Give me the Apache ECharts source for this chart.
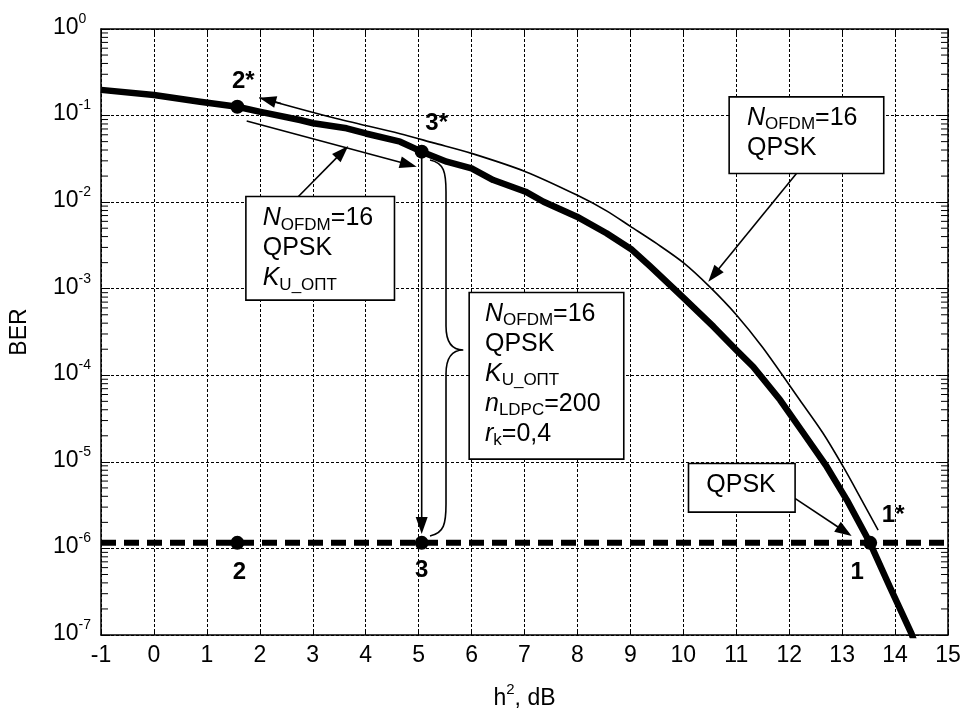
<!DOCTYPE html>
<html>
<head>
<meta charset="utf-8">
<script src="https://cdn.jsdelivr.net/npm/echarts@6/dist/echarts.min.js"></script>
<style>
html, body { margin: 0; padding: 0; background: #fff; }
#main { width: 964px; height: 710px; }
</style>
</head>
<body>
<div id="main"></div>
<script>
// thick curve (simulation, N_OFDM=16, QPSK, K_U_opt, LDPC)
const simX = [-1, 0, 0.87, 1.575, 1.99, 2.76, 3.01, 3.64, 4.02, 4.65, 5.058, 5.53, 6.0, 6.41, 7.02, 7.36, 7.99, 8.55, 9.01, 9.37, 9.98, 10.57, 11.0, 11.32, 11.83, 12.27, 12.71, 13.09, 13.53, 13.9, 14.31, 14.36];
const simBer = [0.198, 0.173, 0.1445, 0.1265, 0.111, 0.0889, 0.0815, 0.0713, 0.0617, 0.0499, 0.0383, 0.0293, 0.0246, 0.018, 0.0132, 0.0101, 0.00679, 0.00437, 0.00288, 0.00182, 8.09e-4, 3.64e-4, 1.96e-4, 1.256e-4, 5.18e-5, 2.14e-5, 8.79e-6, 3.62e-6, 1.146e-6, 3.61e-7, 1.04e-7, 8.5e-8];

// thin curve (N_OFDM=16, QPSK)
const theoryX = [1.99, 3.39, 4.65, 5.28, 6.0, 7.02, 8.0, 8.55, 9.0, 9.5, 10.0, 10.5, 11.0, 11.5, 12.2, 12.64, 13.02, 13.37, 13.68];
const theoryBer = [0.161, 0.0944, 0.0617, 0.0484, 0.0366, 0.0225, 0.012, 0.00794, 0.00525, 0.00331, 0.002, 0.00105, 5.01e-4, 2.09e-4, 5.18e-5, 2.14e-5, 8.79e-6, 3.62e-6, 1.63e-6];

// required BER level (dashed)
const levelX = [-1, 15];
const levelBer = [1.16e-6, 1.16e-6];

// marked points
const pointX = [1.575, 5.058, 1.575, 5.058, 13.53];
const pointBer = [0.1265, 0.0383, 1.16e-6, 1.16e-6, 1.16e-6];

// point names
const nameText = ['2*', '3*', '1*', '2', '3', '1'];
const nameX = [1.575, 5.058, 13.53, 1.575, 5.058, 13.53];
const nameBer = [0.1265, 0.0383, 1.16e-6, 1.16e-6, 1.16e-6, 1.16e-6];
const nameShift = [[6, -25], [15, -28], [23, -27], [2, 30], [0, 28], [-13, 30]];

// arrows: from -> to (head at "to")
const arrowFrom = [[2.40, 0.138], [1.752, 0.0865], [2.715, 0.0114], [5.058, 0.0383], [12.141, 0.0215], [12.109, 3.79e-6]];
const arrowTo = [[1.99, 0.161], [4.963, 0.0257], [3.671, 0.0445], [5.058, 1.47e-6], [10.472, 0.001205], [13.18, 1.39e-6]];

// curly brace: top end, tip, bottom end
const braceTop = [5.215, 0.0307];
const braceTip = [5.844, 1.96e-4];
const braceBottom = [5.215, 1.39e-6];

// annotation boxes (top-left corner)
const boxX = [1.752, 5.970, 10.881, 10.113];
const boxBer = [0.01137, 8.85e-4, 0.1609, 9.37e-6];
const boxText = [
  '{i|N}{s|OFDM}{n|=16}\n{n|QPSK}\n{i|K}{s|U_ОПТ}',
  '{i|N}{s|OFDM}{n|=16}\n{n|QPSK}\n{i|K}{s|U_ОПТ}\n{i|n}{s|LDPC}{n|=200}\n{i|r}{s|k}{n|=0,4}',
  '{i|N}{s|OFDM}{n|=16}\n{n|QPSK}',
  '{n|QPSK}'
];
const boxStyle = [
  { width: 123, height: 90, padding: [6, 8, 6, 16] },
  { width: 130, height: 150, padding: [6, 8, 9, 15] },
  { width: 128, height: 60, padding: [5, 8, 10, 17] },
  { width: 80, height: 30, padding: [6, 8, 11, 17] }
];

// log minor ticks
const minorMant = [2, 3, 4, 5, 6, 7, 8, 9];
const decades = [-7, -6, -5, -4, -3, -2, -1];

const FONT = '"Liberation Sans", Arial, sans-serif';

const zip = (xs, ys) => xs.map((x, i) => [x, ys[i]]);

const minorTicks = [];
decades.forEach(d => minorMant.forEach(m => minorTicks.push([-1, m * Math.pow(10, d)])));

const boxRich = {
  n: { fontSize: 25, lineHeight: 30, fontFamily: FONT, color: '#000' },
  i: { fontSize: 25, lineHeight: 30, fontFamily: FONT, fontStyle: 'italic', color: '#000' },
  s: { fontSize: 17, lineHeight: 20, fontFamily: FONT, verticalAlign: 'bottom', color: '#000' }
};

var chart = echarts.init(document.getElementById('main'), null, { renderer: 'canvas' });

function renderArrow(params, api) {
  var p1 = api.coord([api.value(0), api.value(1)]);
  var p2 = api.coord([api.value(2), api.value(3)]);
  var dx = p2[0] - p1[0], dy = p2[1] - p1[1];
  var len = Math.sqrt(dx * dx + dy * dy);
  var ux = dx / len, uy = dy / len;
  var hl = 17, hw = 6;
  var bx = p2[0] - ux * hl, by = p2[1] - uy * hl;
  return {
    type: 'group',
    children: [
      { type: 'line', shape: { x1: p1[0], y1: p1[1], x2: bx + ux * 2, y2: by + uy * 2 }, style: { stroke: '#000', lineWidth: 1.6 } },
      { type: 'polygon', shape: { points: [[p2[0], p2[1]], [bx - uy * hw, by + ux * hw], [bx + uy * hw, by - ux * hw]] }, style: { fill: '#000' } }
    ]
  };
}

function renderBrace(params, api) {
  var t = api.coord([api.value(0), api.value(1)]);
  var c = api.coord([api.value(2), api.value(3)]);
  var b = api.coord([api.value(4), api.value(5)]);
  var sx = t[0] + 16;
  var d = 'M' + t[0] + ',' + t[1] +
    ' C' + (sx - 2) + ',' + (t[1] + 3) + ' ' + sx + ',' + (t[1] + 12) + ' ' + sx + ',' + (t[1] + 32) +
    ' L' + sx + ',' + (c[1] - 24) +
    ' C' + sx + ',' + (c[1] - 6) + ' ' + (c[0] - 10) + ',' + c[1] + ' ' + c[0] + ',' + c[1] +
    ' C' + (c[0] - 10) + ',' + c[1] + ' ' + sx + ',' + (c[1] + 6) + ' ' + sx + ',' + (c[1] + 24) +
    ' L' + sx + ',' + (b[1] - 32) +
    ' C' + sx + ',' + (b[1] - 12) + ' ' + (sx - 2) + ',' + (b[1] - 3) + ' ' + b[0] + ',' + b[1];
  return { type: 'path', shape: { pathData: d }, style: { stroke: '#000', fill: null, lineWidth: 1.6 } };
}

function renderMinor(params, api) {
  var l = api.coord([-1, api.value(1)]);
  var r = api.coord([15, api.value(1)]);
  return {
    type: 'group',
    children: [
      { type: 'line', shape: { x1: l[0], y1: l[1], x2: l[0] + 7, y2: l[1] }, style: { stroke: '#000', lineWidth: 1 } },
      { type: 'line', shape: { x1: r[0] - 7, y1: r[1], x2: r[0], y2: r[1] }, style: { stroke: '#000', lineWidth: 1 } }
    ]
  };
}

const gridLine = { show: true, lineStyle: { color: '#000', width: 1, type: [3, 2] } };

chart.setOption({
  animation: false,
  backgroundColor: '#fff',
  textStyle: { fontFamily: FONT, color: '#000' },
  grid: { left: 101, right: 16, top: 29, bottom: 75, containLabel: false, outerBoundsMode: 'none' },
  xAxis: [
    {
      type: 'value', min: -1, max: 15, interval: 1,
      axisLine: { show: true, onZero: false, lineStyle: { color: '#000', width: 1.5 } },
      axisTick: { show: true, inside: true, length: 6, lineStyle: { color: '#000' } },
      axisLabel: { fontSize: 23, color: '#000', margin: 9, fontFamily: FONT },
      splitLine: gridLine,
      name: '{a|h}{s|2}{a|, dB}', nameLocation: 'middle', nameGap: 47,
      nameTextStyle: {
        rich: {
          a: { fontSize: 23, lineHeight: 28, verticalAlign: 'bottom', fontFamily: FONT, color: '#000' },
          s: { fontSize: 15, lineHeight: 15, verticalAlign: 'top', fontFamily: FONT, color: '#000' }
        }
      }
    },
    {
      type: 'value', min: -1, max: 15, interval: 1, position: 'top',
      axisLine: { show: true, onZero: false, lineStyle: { color: '#000', width: 1.5 } },
      axisTick: { show: true, inside: true, length: 6, lineStyle: { color: '#000' } },
      axisLabel: { show: false }, splitLine: { show: false }
    }
  ],
  yAxis: [
    {
      type: 'log', logBase: 10, min: 1e-7, max: 1, interval: 1,
      axisLine: { show: true, onZero: false, lineStyle: { color: '#000', width: 1.5 } },
      axisTick: { show: true, inside: true, length: 9, lineStyle: { color: '#000' } },
      axisLabel: {
        align: 'left', margin: 48, padding: [0, 0, 10, 0],
        formatter: v => '{b|10}{e|' + Math.round(Math.log10(v)) + '}',
        rich: {
          b: { fontSize: 23, lineHeight: 24, padding: [7, 0, 0, 0], fontFamily: FONT, color: '#000' },
          e: { fontSize: 14, lineHeight: 14, verticalAlign: 'top', fontFamily: FONT, color: '#000' }
        }
      },
      splitLine: gridLine,
      name: 'BER', nameLocation: 'middle', nameGap: 70, nameRotate: 90,
      nameTextStyle: { fontSize: 23, color: '#000', fontFamily: FONT }
    },
    {
      type: 'log', logBase: 10, min: 1e-7, max: 1, interval: 1, position: 'right',
      axisLine: { show: true, onZero: false, lineStyle: { color: '#000', width: 1.5 } },
      axisTick: { show: true, inside: true, length: 9, lineStyle: { color: '#000' } },
      axisLabel: { show: false }, splitLine: { show: false }
    }
  ],
  series: [
    {
      type: 'custom', name: 'minor', renderItem: renderMinor, data: minorTicks,
      encode: { x: 0, y: 1 }, silent: true, z: 1
    },
    {
      type: 'line', name: 'level', data: zip(levelX, levelBer), showSymbol: false, symbol: 'none',
      lineStyle: { color: '#000', width: 6, type: [15, 8] }, z: 3
    },
    {
      type: 'line', name: 'theory', data: zip(theoryX, theoryBer), symbol: 'none', smooth: 0.3,
      lineStyle: { color: '#000', width: 1.6 }, z: 3
    },
    {
      type: 'line', name: 'sim', data: zip(simX, simBer), symbol: 'none',
      lineStyle: { color: '#000', width: 6.5, join: 'round' }, z: 4
    },
    {
      type: 'custom', name: 'arrows', renderItem: renderArrow,
      data: arrowFrom.map((f, i) => [f[0], f[1], arrowTo[i][0], arrowTo[i][1]]),
      encode: { x: [0, 2], y: [1, 3] }, silent: true, z: 5
    },
    {
      type: 'custom', name: 'brace', renderItem: renderBrace,
      data: [[braceTop[0], braceTop[1], braceTip[0], braceTip[1], braceBottom[0], braceBottom[1]]],
      encode: { x: [0, 2, 4], y: [1, 3, 5] }, silent: true, z: 5
    },
    {
      type: 'scatter', name: 'points', data: zip(pointX, pointBer), symbol: 'circle', symbolSize: 14,
      itemStyle: { color: '#000', opacity: 1 }, z: 6
    },
    {
      type: 'scatter', name: 'names', symbolSize: 0, z: 7, itemStyle: { opacity: 1 },
      data: nameText.map((t, i) => ({
        value: [nameX[i], nameBer[i]],
        label: { show: true, formatter: t, position: 'inside', offset: nameShift[i] }
      })),
      label: { fontSize: 24, fontWeight: 'bold', color: '#000', fontFamily: FONT }
    },
    {
      type: 'scatter', name: 'boxes', symbolSize: 0, z: 10, itemStyle: { opacity: 1 },
      data: boxText.map((t, i) => ({
        value: [boxX[i], boxBer[i]],
        label: Object.assign({
          show: true, formatter: t, position: [0, 0], align: 'left', verticalAlign: 'top',
          backgroundColor: '#fff', borderColor: '#000', borderWidth: 1.6, rich: boxRich
        }, boxStyle[i])
      }))
    }
  ]
});
</script>
</body>
</html>
